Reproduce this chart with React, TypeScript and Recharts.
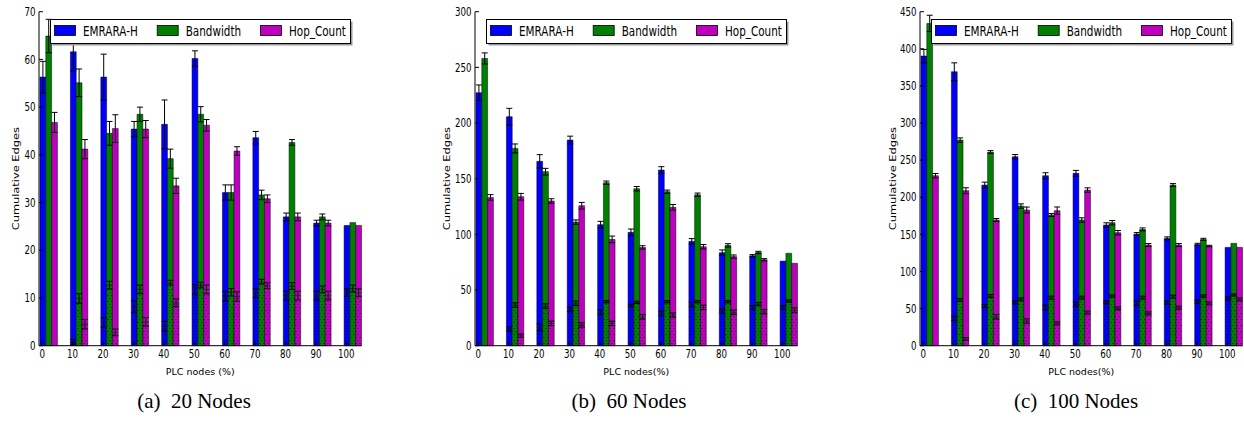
import { Bar, BarChart, ErrorBar, Legend, XAxis, YAxis } from 'recharts';

const categories = [0, 10, 20, 30, 40, 50, 60, 70, 80, 90, 100];
const seriesNames = ['EMRARA-H', 'Bandwidth', 'Hop_Count'];

// (a) 20 nodes
const aEmraraTotal = [56.3, 61.6, 56.3, 45.4, 46.4, 60.2, 32.1, 43.6, 27.0, 25.7, 25.2];
const aEmraraTotalErr = [3.3, 4.0, 4.8, 1.6, 5.1, 1.6, 1.6, 1.3, 0.8, 0.6, 0];
const aEmraraBase = [0, 0.8, 4.9, 8.2, 4.1, 11.8, 10.4, 11.0, 10.5, 10.5, 11.1];
const aEmraraBaseErr = [0, 0.5, 1.0, 1.2, 1.0, 1.0, 1.0, 0.9, 0.9, 0.9, 0.8];
const aBwTotal = [64.9, 55.1, 44.5, 48.5, 39.2, 48.5, 32.1, 31.6, 42.6, 27.0, 25.8];
const aBwTotalErr = [3.5, 2.9, 2.5, 1.5, 2.0, 1.6, 1.6, 1.0, 0.6, 0.6, 0];
const aBwBase = [0, 9.9, 12.7, 11.8, 13.2, 12.7, 11.2, 13.4, 12.5, 11.8, 12.0];
const aBwBaseErr = [0, 1.0, 0.8, 0.9, 0.5, 0.6, 0.8, 0.5, 0.7, 0.7, 0.7];
const aHopTotal = [46.8, 41.2, 45.5, 45.4, 33.5, 46.2, 40.8, 30.8, 27.0, 25.7, 25.2];
const aHopTotalErr = [2.1, 2.0, 2.9, 1.8, 1.6, 1.2, 0.9, 0.8, 0.8, 0.6, 0];
const aHopBase = [0, 4.5, 2.8, 5.0, 9.0, 11.8, 10.3, 12.6, 10.5, 10.5, 11.1];
const aHopBaseErr = [0, 1.0, 0.7, 0.9, 0.8, 0.9, 1.0, 0.6, 0.9, 0.9, 0.8];
const aTicks = [0, 10, 20, 30, 40, 50, 60, 70];

// (b) 60 nodes
const bEmraraTotal = [227.2, 205.7, 165.6, 184.7, 108.7, 101.8, 157.8, 93.7, 83.5, 80.8, 76.0];
const bEmraraTotalErr = [7, 7.5, 6, 3.5, 3, 3, 3, 2.5, 2.5, 1, 0];
const bEmraraBase = [0, 15, 16.5, 32.6, 30, 36.2, 29, 37.1, 31, 34.4, 34.4];
const bEmraraBaseErr = [0, 2, 3, 2, 2, 1, 2, 2, 2, 1.5, 1.5];
const bBwTotal = [258, 177.2, 156.3, 111, 146.4, 141, 138.3, 135.6, 90.1, 83.8, 83.0];
const bBwTotalErr = [5, 4, 3, 2, 1.5, 2, 1.5, 1.5, 1.5, 1, 0];
const bBwBase = [0, 36.5, 35.6, 38, 39.5, 38.9, 39.5, 39.5, 39.5, 37.4, 40.1];
const bBwBaseErr = [0, 2, 2, 2, 1, 1, 1, 1, 1, 1.5, 1];
const bHopTotal = [133.2, 133.8, 130, 125.7, 95.5, 88.3, 124.3, 88.9, 80, 77.2, 74];
const bHopTotalErr = [2.5, 3, 2, 3, 3, 1.5, 2.5, 2, 1.5, 1, 0];
const bHopBase = [0, 9, 20, 18.6, 20, 26, 27.5, 34.4, 30, 30.5, 32];
const bHopBaseErr = [0, 1.5, 2, 2, 2, 2, 2, 2, 2, 2, 2];
const bTicks = [0, 50, 100, 150, 200, 250, 300];

// (c) 100 nodes
const cEmraraTotal = [390.2, 369.1, 216.4, 254.6, 229, 232.2, 162.6, 150.4, 144.6, 136.5, 132.5];
const cEmraraTotalErr = [9, 12, 4, 3, 4, 4, 3, 2, 2, 1.5, 0];
const cEmraraBase = [0, 36.8, 53.4, 58.4, 51.6, 56.1, 58.4, 57, 57.9, 59.3, 63.8];
const cEmraraBaseErr = [0, 3, 2, 2, 3, 3, 2, 3, 2, 2, 2];
const cBwTotal = [434.2, 277, 260.9, 188.1, 176, 169.3, 165.7, 156.7, 216.4, 143.2, 137.9];
const cBwTotalErr = [11, 3, 2, 3, 2, 3, 3, 2, 2, 1.5, 0];
const cBwBase = [0, 61.5, 66.9, 62.4, 64.7, 64.7, 66.9, 64.7, 66, 66.9, 68.3];
const cBwBaseErr = [0, 2, 2, 2, 2, 2, 1.5, 2, 2, 1.5, 1.5];
const cHopTotal = [229, 208.8, 169.3, 182.8, 181.9, 209.7, 152.2, 135.6, 135.6, 134.3, 132.5];
const cHopTotalErr = [3, 4, 2, 4, 5, 3, 3, 2, 2, 1, 0];
const cHopBase = [0, 9, 39, 33.2, 30, 44.5, 50.3, 43.6, 51.2, 57, 62.4];
const cHopBaseErr = [0, 2, 3, 3, 2, 2, 2, 2, 2, 2, 2];
const cTicks = [0, 50, 100, 150, 200, 250, 300, 350, 400, 450];

const BLUE = '#0000ff';
const GREEN = '#008000';
const MAGENTA = '#bf00bf';
const FONT = '"DejaVu Sans", Verdana, sans-serif';
const SQUISH = 0.76;

// plot box geometry
const PLOT_W = 322.5;
const PLOT_TOP = 11.7;
const PLOT_BOTTOM = 345.7;
const LEFT_ROOM = 40;
const CHART_H = 380;
const BAR_SIZE = 5.8;
const TICK_SHIFT = -6;

type Rows = ReturnType<typeof buildRows>;

function buildRows(
  eT: number[], eTE: number[], eB: number[], eBE: number[],
  wT: number[], wTE: number[], wB: number[], wBE: number[],
  hT: number[], hTE: number[], hB: number[], hBE: number[],
) {
  return categories.map((cat, i) => ({
    cat,
    eBase: eB[i], eBaseErr: eBE[i], eTop: eT[i] - eB[i], eTotalErr: eTE[i],
    wBase: wB[i], wBaseErr: wBE[i], wTop: wT[i] - wB[i], wTotalErr: wTE[i],
    hBase: hB[i], hBaseErr: hBE[i], hTop: hT[i] - hB[i], hTotalErr: hTE[i],
  }));
}

const rowsA = buildRows(aEmraraTotal, aEmraraTotalErr, aEmraraBase, aEmraraBaseErr, aBwTotal, aBwTotalErr, aBwBase, aBwBaseErr, aHopTotal, aHopTotalErr, aHopBase, aHopBaseErr);
const rowsB = buildRows(bEmraraTotal, bEmraraTotalErr, bEmraraBase, bEmraraBaseErr, bBwTotal, bBwTotalErr, bBwBase, bBwBaseErr, bHopTotal, bHopTotalErr, bHopBase, bHopBaseErr);
const rowsC = buildRows(cEmraraTotal, cEmraraTotalErr, cEmraraBase, cEmraraBaseErr, cBwTotal, cBwTotalErr, cBwBase, cBwBaseErr, cHopTotal, cHopTotalErr, cHopBase, cHopBaseErr);

function BottomTick(props: any) {
  const { x, y, payload } = props;
  const tx = x + TICK_SHIFT;
  return (
    <g>
      <line x1={tx} x2={tx} y1={y} y2={y - 4} stroke="#000" strokeWidth={1} />
      <text transform={`translate(${tx},${y + 12.6}) scale(${SQUISH},1)`} textAnchor="middle" fontSize={11.4} fontFamily={FONT} fill="#000">
        {payload.value}
      </text>
    </g>
  );
}

function TopTick(props: any) {
  const { x, y } = props;
  const tx = x + TICK_SHIFT;
  return <line x1={tx} x2={tx} y1={y} y2={y + 4} stroke="#000" strokeWidth={1} />;
}

function LeftTick(props: any) {
  const { x, y, payload } = props;
  return (
    <g>
      <line x1={x} x2={x + 4} y1={y} y2={y} stroke="#000" strokeWidth={1} />
      <text transform={`translate(${x - 3.6},${y + 4.2}) scale(${SQUISH},1)`} textAnchor="end" fontSize={11.4} fontFamily={FONT} fill="#000">
        {payload.value}
      </text>
    </g>
  );
}

function RightTick(props: any) {
  const { x, y } = props;
  return <line x1={x} x2={x - 4} y1={y} y2={y} stroke="#000" strokeWidth={1} />;
}

function renderLegend(props: any) {
  const items = (props.payload || [])
    .filter((p: any) => seriesNames.includes(p.value))
    .sort((p: any, q: any) => seriesNames.indexOf(p.value) - seriesNames.indexOf(q.value));
  const swatchX = [4, 106.7, 210];
  return (
    <svg width={304} height={28} style={{ display: 'block' }}>
      <rect x={2.5} y={2.5} width={300} height={24} fill="#999" />
      <rect x={0.5} y={0.5} width={300} height={24} fill="#fff" stroke="#000" strokeWidth={1} />
      {items.map((p: any, i: number) => (
        <g key={p.value}>
          <rect x={swatchX[i] + 0.5} y={6.5} width={21} height={10} fill={p.color} stroke="#000" strokeWidth={0.8} />
          <text transform={`translate(${swatchX[i] + 29},${16.6}) scale(${SQUISH},1)`} fontSize={13.7} fontFamily={FONT} fill="#000">
            {p.value}
          </text>
        </g>
      ))}
    </svg>
  );
}

interface PanelProps {
  rows: Rows;
  ticks: number[];
  plotLeft: number;
  yTitleDx: number;
  xTitle: string;
}

function Panel({ rows, ticks, plotLeft, yTitleDx, xTitle }: PanelProps) {
  const yMax = ticks[ticks.length - 1];
  const width = PLOT_W + LEFT_ROOM + 4;
  const yTitle = ({ viewBox }: any) => {
    const cx = viewBox.x + viewBox.width + yTitleDx;
    const cy = viewBox.y + viewBox.height / 2;
    return (
      <text transform={`translate(${cx},${cy}) scale(${SQUISH},1) rotate(-90)`} textAnchor="middle" dominantBaseline="central" fontSize={11.4} fontFamily={FONT} fill="#000">
        Cumulative Edges
      </text>
    );
  };
  const xTitleLabel = ({ viewBox }: any) => (
    <text x={viewBox.x + viewBox.width / 2} y={viewBox.y + 29} textAnchor="middle" fontSize={9.5} fontFamily={FONT} fill="#000">
      {xTitle}
    </text>
  );
  const errProps = { width: 3, stroke: '#000', strokeWidth: 1 };
  return (
    <div style={{ position: 'absolute', left: plotLeft - LEFT_ROOM, top: 0, width, height: CHART_H }}>
      <BarChart
        width={width}
        height={CHART_H}
        data={rows}
        barSize={BAR_SIZE}
        barGap={0}
        margin={{ top: PLOT_TOP, right: 4, bottom: CHART_H - PLOT_BOTTOM - 30, left: LEFT_ROOM - 30 }}
      >
        <XAxis dataKey="cat" height={30} tickSize={0} tickMargin={0} tickLine={false} axisLine={{ stroke: '#000' }} padding={{ left: -6, right: -6 }} tick={BottomTick} interval={0} label={xTitleLabel} />
        <XAxis xAxisId="top" orientation="top" dataKey="cat" height={0} tickSize={0} tickMargin={0} tickLine={false} axisLine={{ stroke: '#000' }} padding={{ left: -6, right: -6 }} tick={TopTick} interval={0} />
        <YAxis width={30} domain={[0, yMax]} ticks={ticks} tickSize={0} tickMargin={0} tickLine={false} axisLine={{ stroke: '#000' }} tick={LeftTick} interval={0} label={yTitle} />
        <YAxis yAxisId="right" orientation="right" width={0} domain={[0, yMax]} ticks={ticks} tickSize={0} tickMargin={0} tickLine={false} axisLine={{ stroke: '#000' }} tick={RightTick} interval={0} />
        <Bar dataKey="eBase" stackId="e" fill="url(#dots-b)" stroke="#000" strokeWidth={0.5} legendType="none" isAnimationActive={false}>
          <ErrorBar dataKey="eBaseErr" {...errProps} />
        </Bar>
        <Bar dataKey="eTop" name="EMRARA-H" stackId="e" fill={BLUE} stroke="#000" strokeWidth={0.5} isAnimationActive={false}>
          <ErrorBar dataKey="eTotalErr" {...errProps} />
        </Bar>
        <Bar dataKey="wBase" stackId="w" fill="url(#dots-g)" stroke="#000" strokeWidth={0.5} legendType="none" isAnimationActive={false}>
          <ErrorBar dataKey="wBaseErr" {...errProps} />
        </Bar>
        <Bar dataKey="wTop" name="Bandwidth" stackId="w" fill={GREEN} stroke="#000" strokeWidth={0.5} isAnimationActive={false}>
          <ErrorBar dataKey="wTotalErr" {...errProps} />
        </Bar>
        <Bar dataKey="hBase" stackId="h" fill="url(#dots-m)" stroke="#000" strokeWidth={0.5} legendType="none" isAnimationActive={false}>
          <ErrorBar dataKey="hBaseErr" {...errProps} />
        </Bar>
        <Bar dataKey="hTop" name="Hop_Count" stackId="h" fill={MAGENTA} stroke="#000" strokeWidth={0.5} isAnimationActive={false}>
          <ErrorBar dataKey="hTotalErr" {...errProps} />
        </Bar>
        <Legend content={renderLegend} verticalAlign="middle" align="center" wrapperStyle={{ left: LEFT_ROOM + 11, top: 19, width: 304, height: 28 }} />
      </BarChart>
    </div>
  );
}

const captionStyle = {
  position: 'absolute' as const,
  top: 391,
  fontFamily: '"Liberation Serif", "Times New Roman", serif',
  fontSize: 21,
  lineHeight: '21px',
  whiteSpace: 'pre' as const,
  transform: 'translateX(-50%)',
};

export default function App() {
  const patterns: [string, string][] = [['dots-b', BLUE], ['dots-g', GREEN], ['dots-m', MAGENTA]];
  return (
    <div style={{ position: 'absolute', left: 0, top: 0, width: 1244, height: 423, background: '#fff', overflow: 'hidden' }}>
      <svg width={0} height={0} style={{ position: 'absolute' }}>
        <defs>
          {patterns.map(([id, c]) => (
            <pattern key={id} id={id} width={4} height={6} patternUnits="userSpaceOnUse">
              <rect width={4} height={6} fill={c} />
              <circle cx={1} cy={1.5} r={0.5} fill="#000" />
              <circle cx={3} cy={4.5} r={0.5} fill="#000" />
            </pattern>
          ))}
        </defs>
      </svg>
      <Panel rows={rowsA} ticks={aTicks} plotLeft={39.3} yTitleDx={-22.6} xTitle="PLC nodes (%)" />
      <Panel rows={rowsB} ticks={bTicks} plotLeft={475} yTitleDx={-27.5} xTitle="PLC nodes(%)" />
      <Panel rows={rowsC} ticks={cTicks} plotLeft={920} yTitleDx={-27} xTitle="PLC nodes(%)" />
      <div style={{ ...captionStyle, left: 194 }}>{'(a)  20 Nodes'}</div>
      <div style={{ ...captionStyle, left: 629 }}>{'(b)  60 Nodes'}</div>
      <div style={{ ...captionStyle, left: 1076 }}>{'(c)  100 Nodes'}</div>
    </div>
  );
}
